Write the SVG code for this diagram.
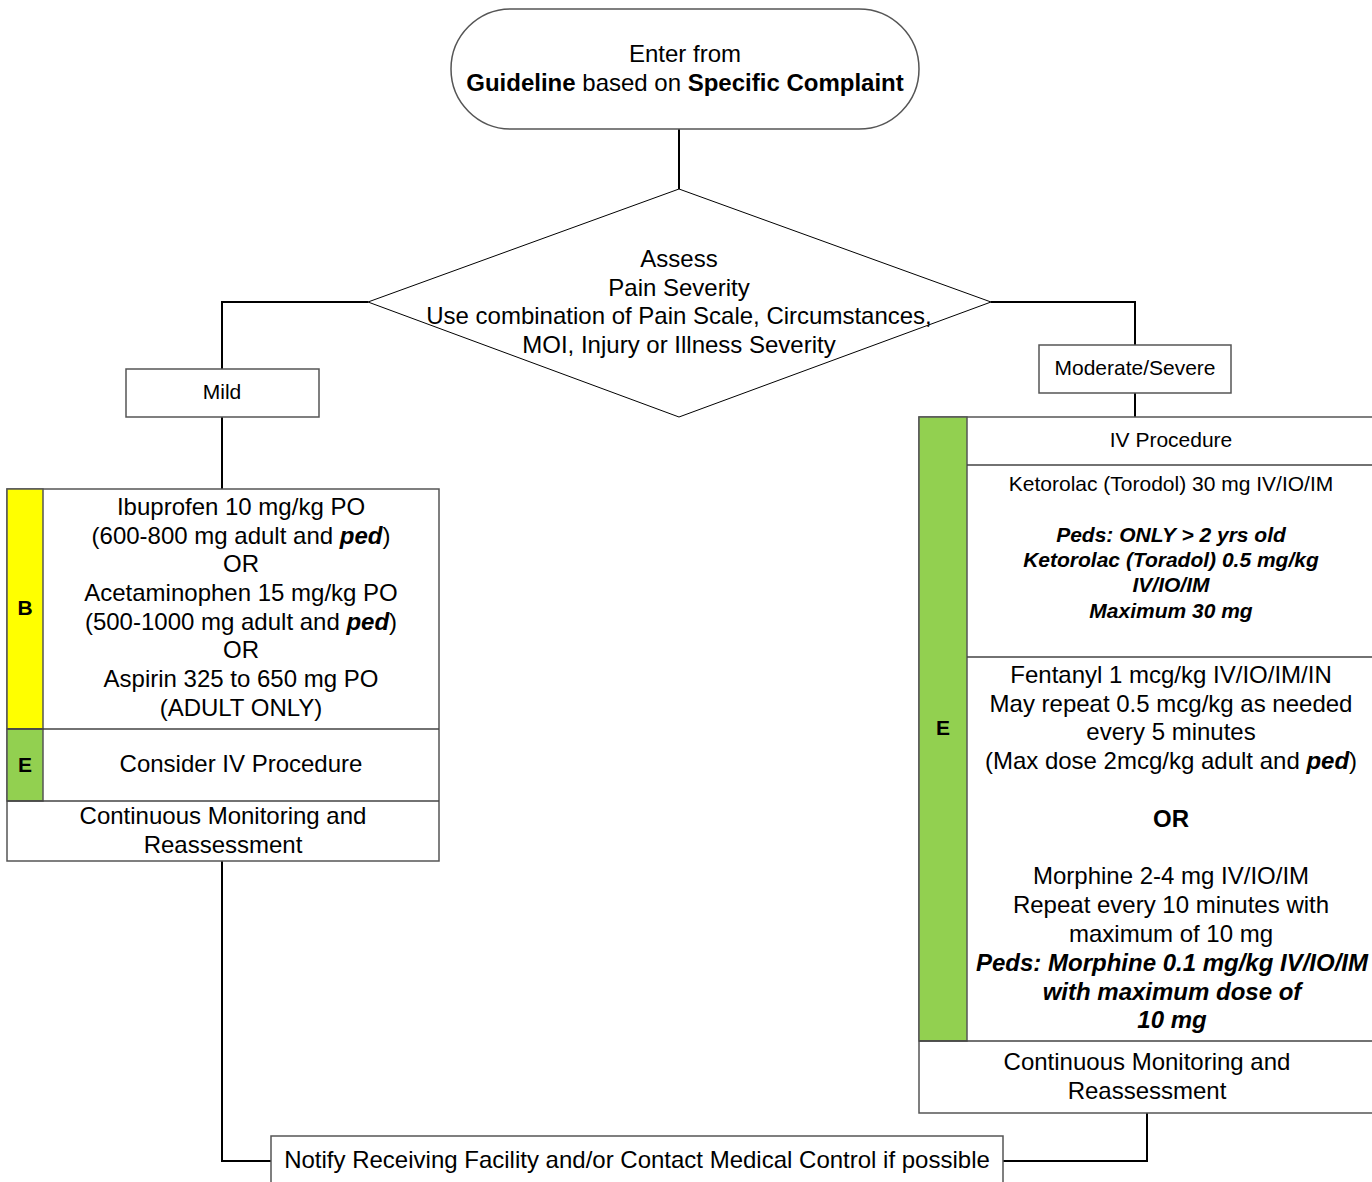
<svg xmlns="http://www.w3.org/2000/svg" width="1372" height="1182" viewBox="0 0 1372 1182">
<style>
text{font-family:"Liberation Sans",Arial,sans-serif;fill:#000;text-anchor:middle}
.f24{font-size:24px}
.f21{font-size:21px}
.b{font-weight:bold}
.bi{font-weight:bold;font-style:italic}
.box{fill:#fff;stroke:#555;stroke-width:1.5}
.div{fill:none;stroke:#444;stroke-width:1.5}
.conn{fill:none;stroke:#000;stroke-width:2}
</style>
<rect width="1372" height="1182" fill="#fff"/>
<g id="connectors">
<path class="conn" d="M679,129 V189"/>
<path class="conn" d="M368,302 H222 V369"/>
<path class="conn" d="M222,417 V489"/>
<path class="conn" d="M991,302 H1135 V345"/>
<path class="conn" d="M1135,393 V417"/>
<path class="conn" d="M222,861 V1161 H271"/>
<path class="conn" d="M1147,1113 V1161 H1003"/>
</g>
<g id="start">
<rect class="box" x="451" y="9" width="468" height="120" rx="60" ry="60"/>
<text class="f24" x="685" y="62">Enter from</text>
<text class="f24" x="685" y="91"><tspan class="b">Guideline</tspan> based on <tspan class="b">Specific Complaint</tspan></text>
</g>
<g id="assess">
<polygon points="679,189 991,302 679,417 368,302" fill="#fff" stroke="#000" stroke-width="1"/>
<text class="f24" x="679" y="267">Assess</text>
<text class="f24" x="679" y="296">Pain Severity</text>
<text class="f24" x="679" y="324">Use combination of Pain Scale, Circumstances,</text>
<text class="f24" x="679" y="353">MOI, Injury or Illness Severity</text>
</g>
<g id="mild">
<rect class="box" x="126" y="369" width="193" height="48"/>
<text class="f21" x="222" y="399">Mild</text>
</g>
<g id="moderate">
<rect class="box" x="1039" y="345" width="192" height="48"/>
<text class="f21" x="1135" y="375">Moderate/Severe</text>
</g>
<g id="mild-treatment">
<rect class="box" x="7" y="489" width="432" height="372"/>
<rect x="7" y="489" width="36" height="240" fill="#ffff00" stroke="#555" stroke-width="1.5"/>
<rect x="7" y="729" width="36" height="72" fill="#92d050" stroke="#555" stroke-width="1.5"/>
<path class="div" d="M7,729 H439 M7,801 H439"/>
<text class="f21 b" x="25" y="615">B</text>
<text class="f21 b" x="25" y="772">E</text>
<text class="f24" x="241" y="515">Ibuprofen 10 mg/kg PO</text>
<text class="f24" x="241" y="544">(600-800 mg adult and <tspan class="bi">ped</tspan>)</text>
<text class="f24" x="241" y="572">OR</text>
<text class="f24" x="241" y="601">Acetaminophen 15 mg/kg PO</text>
<text class="f24" x="241" y="630">(500-1000 mg adult and <tspan class="bi">ped</tspan>)</text>
<text class="f24" x="241" y="658">OR</text>
<text class="f24" x="241" y="687">Aspirin 325 to 650 mg PO</text>
<text class="f24" x="241" y="716">(ADULT ONLY)</text>
<text class="f24" x="241" y="772">Consider IV Procedure</text>
<text class="f24" x="223" y="824">Continuous Monitoring and</text>
<text class="f24" x="223" y="853">Reassessment</text>
</g>
<g id="severe-treatment">
<rect class="box" x="919" y="417" width="456" height="696"/>
<rect x="919" y="417" width="48" height="624" fill="#92d050" stroke="#555" stroke-width="1.5"/>
<path class="div" d="M967,465 H1375 M967,657 H1375 M919,1041 H1375"/>
<text class="f21 b" x="943" y="735">E</text>
<text class="f21" x="1171" y="447">IV Procedure</text>
<text class="f21" x="1171" y="491">Ketorolac (Torodol) 30 mg IV/IO/IM</text>
<text class="f21 bi" x="1171" y="542">Peds: ONLY &gt; 2 yrs old</text>
<text class="f21 bi" x="1171" y="567">Ketorolac (Toradol) 0.5 mg/kg</text>
<text class="f21 bi" x="1171" y="592">IV/IO/IM</text>
<text class="f21 bi" x="1171" y="618">Maximum 30 mg</text>
<text class="f24" x="1171" y="683">Fentanyl 1 mcg/kg IV/IO/IM/IN</text>
<text class="f24" x="1171" y="712">May repeat 0.5 mcg/kg as needed</text>
<text class="f24" x="1171" y="740">every 5 minutes</text>
<text class="f24" x="1171" y="769">(Max dose 2mcg/kg adult and <tspan class="bi">ped</tspan>)</text>
<text class="f24 b" x="1171" y="827">OR</text>
<text class="f24" x="1171" y="884">Morphine 2-4 mg IV/IO/IM</text>
<text class="f24" x="1171" y="913">Repeat every 10 minutes with</text>
<text class="f24" x="1171" y="942">maximum of 10 mg</text>
<text class="f24 bi" x="1172" y="971">Peds: Morphine 0.1 mg/kg IV/IO/IM</text>
<text class="f24 bi" x="1172" y="1000">with maximum dose of</text>
<text class="f24 bi" x="1172" y="1028">10 mg</text>
<text class="f24" x="1147" y="1070">Continuous Monitoring and</text>
<text class="f24" x="1147" y="1099">Reassessment</text>
</g>
<g id="notify">
<rect class="box" x="271" y="1136" width="732" height="60"/>
<text class="f24" x="637" y="1168">Notify Receiving Facility and/or Contact Medical Control if possible</text>
</g>
</svg>
